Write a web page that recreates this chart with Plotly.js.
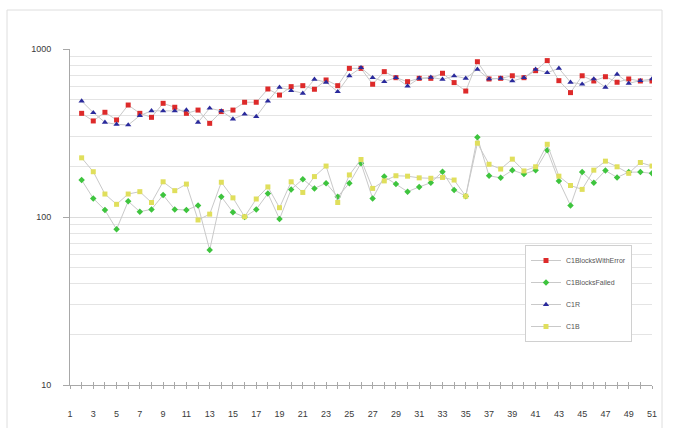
<!DOCTYPE html>
<html>
<head>
<meta charset="utf-8">
<script src="https://cdn.plot.ly/plotly-3.0.1.min.js"></script>
<style>
html,body{margin:0;padding:0;background:#fff;}
#chart{width:684px;height:428px;}
</style>
</head>
<body>
<div id="chart"></div>
<script>
// Categories 1..51 (category 1 has no data)
var categories = [1,2,3,4,5,6,7,8,9,10,11,12,13,14,15,16,17,18,19,20,21,22,23,24,25,26,27,28,29,30,31,32,33,34,35,36,37,38,39,40,41,42,43,44,45,46,47,48,49,50,51];

var c1BlocksWithError = [null,
  414,373,420,378,464,414,392,475,450,414,433,361,424,433,482,482,578,532,
  597,605,576,654,605,767,767,617,733,675,639,669,669,717,631,562,840,
  663,669,693,675,743,853,648,550,693,645,684,634,663,645,645];

var c1BlocksFailed = [null,
  166,129,110,84.5,124,107.6,111,135,111,110,117,63.6,132,106.7,100,111,138,97.3,
  146,168,148,159,132,159,209,129,174,157,141.5,151,160,186,145,133,298,
  176,171,190,180,190,250,164,117,185,160,189,172,185,185,182];

var c1R = [null,
  490,418,366,356,353,401,429,428,428,433,366,444,428,383,409,396,490,592,
  565,545,660,634,557,693,774,675,639,675,602,669,678,660,691,669,757,
  663,669,645,675,757,723,767,634,617,663,592,707,625,648,663];

var c1B = [null,
  225,186,137,119,137,141.5,122,162,143.5,157,96,104,161,130,100.4,128,151,113.6,
  162,140,174,201,122,178,220,148,164,176,175,171,170,172,166,133,275,
  206,193,221,188,199,271,175,154,146,190,215,199,182,211,201];

var seriesNames = ["C1BlocksWithError","C1BlocksFailed","C1R","C1B"];
var xTickLabels = categories.map(function(c){ return (c % 2 === 1) ? String(c) : ""; });
var yMajorTicks = [10,100,1000];
var yMinorTicks = [20,30,40,50,60,70,80,90,200,300,400,500,600,700,800,900];

var lineStyle = {color:"#c9c9c9", width:1};
function mk(y, name, symbol, color, size, grp){
  return {x:categories, y:y, name:name, type:"scatter", mode:"lines+markers",
    line:lineStyle, marker:{symbol:symbol, color:color, size:size, line:{width:0}},
    connectgaps:false, legendgroup:grp};
}
var traces = [
  mk(c1BlocksWithError, seriesNames[0], "square", "#dd2a2a", 5, "g1"),
  mk(c1BlocksFailed, seriesNames[1], "diamond", "#3ec43e", 5, "g2"),
  mk(c1R, seriesNames[2], "triangle-up", "#2a2a9c", 5.5, "g3"),
  mk(c1B, seriesNames[3], "square", "#e0df5c", 5, "g4")
];
// helper trace for crossing x ticks (inside half)
traces.push({x:[1,51], y:[null,null], xaxis:"x2", yaxis:"y", showlegend:false,
  type:"scatter", mode:"lines", hoverinfo:"skip"});

var mL = 70, mR = 32, mT = 49, mB = 43, W = 684, H = 428;
var pw = W - mL - mR, ph = H - mT - mB;
function px2paperX(p){ return (p - mL)/pw; }
function px2paperY(p){ return (H - mB - p)/ph; }

var fontFam = "'Liberation Sans', Arial, sans-serif";
var layout = {
  width:W, height:H,
  margin:{l:mL, r:mR, t:mT, b:mB, pad:0},
  paper_bgcolor:"#ffffff", plot_bgcolor:"#ffffff",
  font:{family:fontFam, size:9, color:"#3a3a3a"},
  showlegend:true,
  legend:{x:px2paperX(525), y:px2paperY(245), xanchor:"left", yanchor:"top",
    bgcolor:"#ffffff", bordercolor:"#d0d0d0", borderwidth:1,
    font:{family:fontFam, size:7, color:"#555555"},
    traceorder:"grouped", tracegroupgap:3, itemwidth:30,
    entrywidth:95, entrywidthmode:"pixels"},
  xaxis:{type:"linear", range:[1,51], tickmode:"array", tickvals:categories, ticktext:xTickLabels,
    ticks:"outside", ticklen:3, tickcolor:"#a8a8a8", tickwidth:1,
    showline:true, linecolor:"#a8a8a8", linewidth:1, showgrid:false, zeroline:false,
    ticklabelstandoff:17, tickfont:{size:9, color:"#3a3a3a"}},
  xaxis2:{type:"linear", range:[1,51], overlaying:"x", anchor:"y", tickmode:"array", tickvals:categories,
    ticks:"inside", ticklen:3, tickcolor:"#a8a8a8", tickwidth:1, showticklabels:false,
    showline:false, showgrid:false, zeroline:false},
  yaxis:{type:"log", range:[1,3], tickmode:"array", tickvals:yMajorTicks,
    ticktext:yMajorTicks.map(String),
    ticks:"outside", ticklen:6, tickcolor:"#a8a8a8", tickwidth:1,
    showline:true, linecolor:"#a8a8a8", linewidth:1,
    showgrid:true, gridcolor:"#dcdcdc", gridwidth:1, zeroline:false,
    ticklabelstandoff:10, tickfont:{size:9, color:"#3a3a3a"},
    minor:{tickmode:"array", tickvals:yMinorTicks, showgrid:true, gridcolor:"#e4e4e4", gridwidth:1, ticks:""}},
  shapes:[{type:"rect", xref:"paper", yref:"paper",
    x0:px2paperX(7), x1:px2paperX(662), y0:px2paperY(440), y1:px2paperY(10),
    line:{color:"#dedede", width:1}, fillcolor:"rgba(0,0,0,0)", layer:"below"}]
};

Plotly.newPlot("chart", traces, layout, {displayModeBar:false, staticPlot:true});
</script>
</body>
</html>
